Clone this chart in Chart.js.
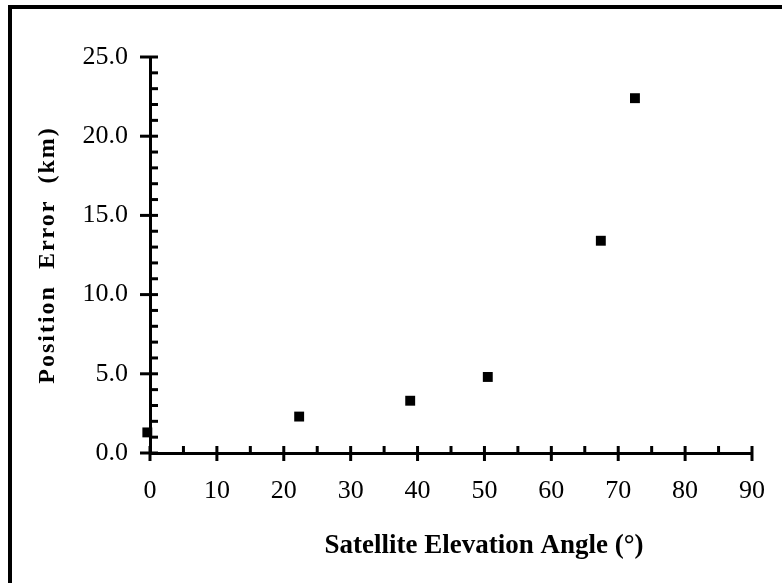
<!DOCTYPE html>
<html>
<head>
<meta charset="utf-8">
<script src="https://cdn.jsdelivr.net/npm/chart.js@4/dist/chart.umd.min.js"></script>
<style>
body{margin:0;background:#fff}
#wrap{position:relative;width:782px;height:583px}
#frame{position:absolute;left:8px;top:5px;width:774px;height:578px;border-top:4px solid #000;border-left:4px solid #000;box-sizing:border-box;pointer-events:none}
</style>
</head>
<body>
<div id="wrap">
<canvas id="chart" width="782" height="583"></canvas>
<div id="frame"></div>
</div>
<script>
// elevation angle (deg) vs position error (km)
let angles = [-0.4, 22.3, 38.9, 50.5, 67.4, 72.5]
let errors = [1.3, 2.3, 3.3, 4.8, 13.4, 22.4]
let xTicks = [0, 10, 20, 30, 40, 50, 60, 70, 80, 90]
let yTicks = [0, 5, 10, 15, 20, 25]
let xTitle = "Satellite Elevation Angle (°)"
let yTitle = "Position  Error  (km)"

let points = angles.map((a, i) => ({x: a, y: errors[i]}))

// tick marks and axis titles
let axisDecor = {
  id: "axisDecor",
  afterDraw(chart){
    let ctx = chart.ctx
    let xs = chart.scales.x
    let ys = chart.scales.y
    let axisY = xs.top
    let axisX = ys.right
    ctx.save()
    ctx.strokeStyle = "#000"
    ctx.lineWidth = 3
    for(let v = 0; v <= 90; v += 5){
      let px = xs.getPixelForValue(v)
      ctx.beginPath()
      if(v % 10 == 0){
        ctx.moveTo(px, axisY - 7)
        ctx.lineTo(px, axisY + 8)
      } else {
        ctx.moveTo(px, axisY - 7)
        ctx.lineTo(px, axisY)
      }
      ctx.stroke()
    }
    for(let v = 0; v <= 25; v += 1){
      let py = ys.getPixelForValue(v)
      ctx.beginPath()
      if(v % 5 == 0){
        ctx.moveTo(axisX - 10, py)
        ctx.lineTo(axisX + 8, py)
      } else {
        ctx.moveTo(axisX, py)
        ctx.lineTo(axisX + 8, py)
      }
      ctx.stroke()
    }
    ctx.fillStyle = "#000"
    ctx.font = "bold 27px 'Liberation Serif'"
    ctx.textAlign = "center"
    ctx.textBaseline = "middle"
    ctx.fillText(xTitle, 484, 546)
    ctx.translate(48, 255)
    ctx.rotate(-Math.PI / 2)
    ctx.font = "bold 24px 'Liberation Serif'"
    ctx.letterSpacing = "2px"
    ctx.fillText(yTitle, 0, 0)
    ctx.restore()
  }
}

new Chart(document.getElementById("chart"), {
  type: "scatter",
  data: {
    datasets: [{
      data: points,
      pointStyle: "rect",
      pointRadius: 7,
      pointHoverRadius: 7,
      backgroundColor: "#000",
      borderColor: "#000",
      borderWidth: 0,
      clip: false
    }]
  },
  options: {
    responsive: false,
    animation: false,
    layout: {padding: {top: 57, right: 30, left: 0, bottom: 0}},
    plugins: {legend: {display: false}, tooltip: {enabled: false}},
    scales: {
      x: {
        type: "linear",
        min: 0,
        max: 90,
        afterFit(s){ s.height = 130; s.paddingLeft = 0; s.paddingRight = 0 },
        afterBuildTicks(s){ s.ticks = xTicks.map(v => ({value: v})) },
        grid: {display: true, drawOnChartArea: false, drawTicks: false},
        border: {display: true, color: "#000", width: 3},
        ticks: {
          color: "#000",
          padding: 23,
          font: {family: "'Liberation Serif'", size: 26},
          callback: v => String(v)
        }
      },
      y: {
        type: "linear",
        min: 0,
        max: 25,
        afterFit(s){ s.width = 150; s.paddingTop = 0; s.paddingBottom = 0 },
        afterBuildTicks(s){ s.ticks = yTicks.map(v => ({value: v})) },
        grid: {display: true, drawOnChartArea: false, drawTicks: false},
        border: {display: true, color: "#000", width: 3},
        ticks: {
          color: "#000",
          padding: 22,
          font: {family: "'Liberation Serif'", size: 26},
          callback: v => Number(v).toFixed(1)
        }
      }
    }
  },
  plugins: [axisDecor]
})
</script>
</body>
</html>
